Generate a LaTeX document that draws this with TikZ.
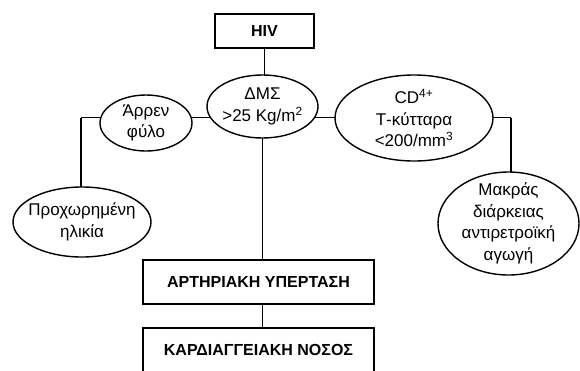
\documentclass[tikz,border=0pt]{standalone}
\usepackage{fontspec}
\setmainfont{Liberation Sans}
\usetikzlibrary{shapes.geometric,backgrounds}

\newcommand\ovalfont{\fontsize{17}{21.5}\selectfont}
\newcommand\boxfont{\fontsize{16}{18}\selectfont\bfseries}

\tikzset{
  oval/.style={ellipse, draw, line width=1.4pt, fill=white, inner sep=0pt},
  ovaltext/.style={align=center, font=\ovalfont, inner sep=0pt},
  box/.style={rectangle, draw, line width=1.4pt, fill=white, font=\boxfont, minimum width=231, minimum height=44},
  link/.style={line width=1.4pt},
}

\begin{document}
\begin{tikzpicture}[x=1pt,y=-1pt]

\clip (0,0) rectangle (580,370);

\node [box, minimum width=99, minimum height=34] (hiv) at (264.5,31) {HIV};

\node [oval, minimum width=111, minimum height=63, label={[ovaltext]center:{ΔΜΣ\\>25 Kg/m\textsuperscript{2}}}] (dms) at (262.5,106.5) {};
\node [oval, minimum width=92, minimum height=56, label={[ovaltext]center:{Άρρεν\\φύλο}}] (arren) at (146,123) {};
\node [oval, minimum width=138, minimum height=70, label={[ovaltext]center:{Προχωρημένη\\ηλικία}}] (ilikia) at (82,222) {};
\node [oval, minimum width=158, minimum height=86, label={[ovaltext]center:{CD\textsuperscript{4+}\\Τ-κύτταρα\\<200/mm\textsuperscript{3}}}] (cd) at (414,118) {};
\node [oval, minimum width=141, minimum height=103, label={[ovaltext]center:{Μακράς\\διάρκειας\\αντιρετροϊκή\\αγωγή}}] (haart) at (508.5,223.5) {};

\node [box] (ypertasi) at (258.5,282) {ΑΡΤΗΡΙΑΚΗ ΥΠΕΡΤΑΣΗ};
\node [box] (nosos) at (258.5,350) {ΚΑΡΔΙΑΓΓΕΙΑΚΗ ΝΟΣΟΣ};

\coordinate (lbend) at (81,117.5);
\coordinate (rbend) at (511,117.5);

% connectors sit behind the white ovals
\begin{pgfonlayer}{background}
\draw [link] (hiv.south) -- (hiv.south |- dms.center);
\draw [link] (lbend) -- (dms.center |- lbend) -- (rbend);
\draw [link] (lbend) -- (lbend |- ilikia.center);
\draw [link] (rbend) -- (rbend |- haart.center);
\draw [link] (dms.center) -- (dms.center |- ypertasi.north);
\draw [link] (dms.center |- ypertasi.south) -- (dms.center |- nosos.north);
\end{pgfonlayer}

\end{tikzpicture}
\end{document}
